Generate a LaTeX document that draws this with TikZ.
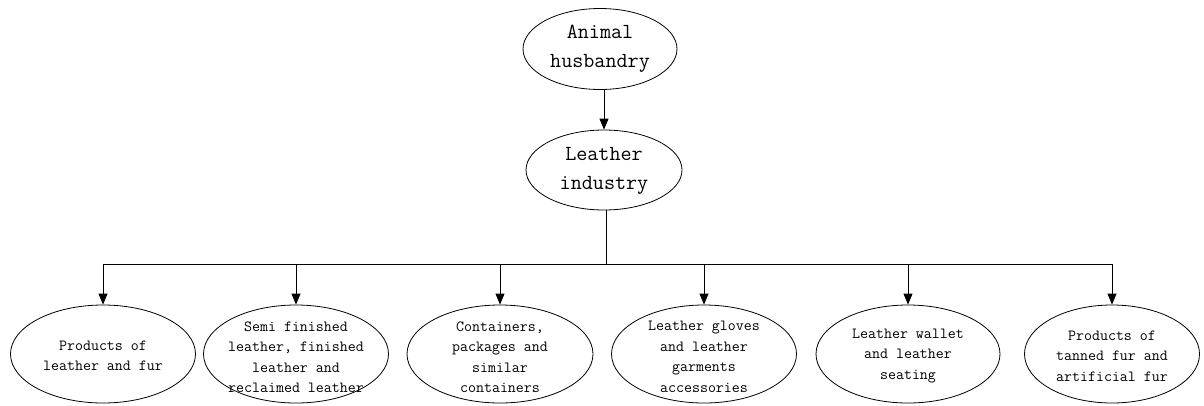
\documentclass[tikz,border=0pt]{standalone}
\usetikzlibrary{shapes.geometric,arrows.meta}
\begin{document}
\begin{tikzpicture}[x=1pt,y=-1pt,
  oval/.style={draw,ellipse,line width=0.8pt,inner sep=0pt},
  bigtxt/.style={font=\fontsize{21.5}{29}\selectfont\ttfamily,align=center,inner sep=0pt},
  smalltxt/.style={font=\fontsize{15.5}{20.5}\selectfont\ttfamily,align=center,inner sep=0pt},
  conn/.style={line width=0.8pt},
  arr/.style={conn,-{Triangle[length=11pt,width=9pt]}}]
\useasboundingbox (0,0) rectangle (1204,405);
% top nodes
\node[oval,minimum width=154pt,minimum height=81pt] (ah) at (600,49) {};
\node[bigtxt] (aht) at (600,49) {Animal\\husbandry};
\node[oval,minimum width=156pt,minimum height=80pt] (li) at (604,170) {};
\node[bigtxt] (lit) at (604,171) {Leather\\industry};
% bottom nodes
\node[oval,minimum width=185pt,minimum height=98pt] (b1) at (103,354) {};
\node[smalltxt] (b1t) at (103,356) {Products of\\leather and fur};
\node[oval,minimum width=185pt,minimum height=98pt] (b2) at (296,354) {};
\node[smalltxt] (b2t) at (296,357) {Semi finished\\leather, finished\\leather and\\reclaimed leather};
\node[oval,minimum width=186pt,minimum height=98pt] (b3) at (500,354) {};
\node[smalltxt] (b3t) at (500,357) {Containers,\\packages and\\similar\\containers};
\node[oval,minimum width=185pt,minimum height=98pt] (b4) at (704,354) {};
\node[smalltxt] (b4t) at (704,357) {Leather gloves\\and leather\\garments\\accessories};
\node[oval,minimum width=184pt,minimum height=98pt] (b5) at (908,354) {};
\node[smalltxt] (b5t) at (908,356) {Leather wallet\\and leather\\seating};
\node[oval,minimum width=175pt,minimum height=98pt] (b6) at (1112,354) {};
\node[smalltxt] (b6t) at (1112,356) {Products of\\tanned fur and\\artificial fur};
% connectors
\coordinate (hl) at (103,264);
\coordinate (hr) at (1112,264);
\coordinate (hm) at (606,264);
\draw[arr] (ah.south -| 604,0) -- (li.north -| 604,0);
\draw[conn] (li.south -| hm) -- (hm);
\draw[conn] (hl) -- (hr);
\draw[arr] (hl) -- (b1.north);
\draw[arr] (b2.north |- hl) -- (b2.north);
\draw[arr] (b3.north |- hl) -- (b3.north);
\draw[arr] (b4.north |- hl) -- (b4.north);
\draw[arr] (b5.north |- hl) -- (b5.north);
\draw[arr] (hr) -- (b6.north);
\end{tikzpicture}
\end{document}
